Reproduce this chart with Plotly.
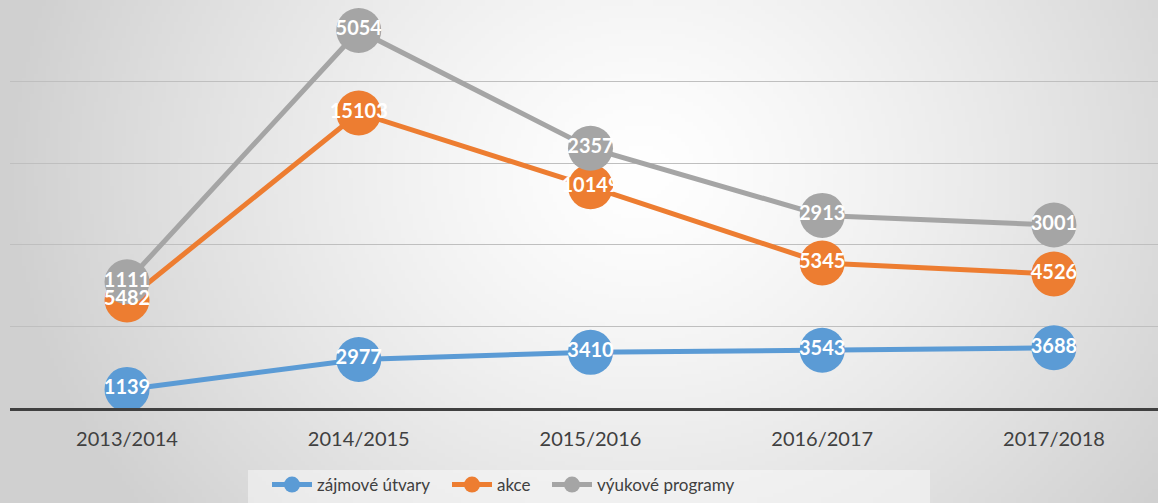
import base64, struct, zlib
import numpy as np
import plotly.graph_objects as go

# ---- data ----
years = ["2013/2014", "2014/2015", "2015/2016", "2016/2017", "2017/2018"]
zajmove_utvary = [1139, 2977, 3410, 3543, 3688]
akce = [5482, 15103, 10149, 5345, 4526]
vyukove_programy = [1111, 5054, 2357, 2913, 3001]
series_names = ["zájmové útvary", "akce", "výukové programy"]
colors = ["#5B9BD5", "#ED7D31", "#A5A5A5"]

W, H = 1158, 503
ML, MR, MT, MB = 10, 0, 0, 95
PW, PH = W - ML - MR, H - MT - MB

# ---- radial gradient background as PNG ----
def gradient_png(w, h):
    ys, xs = np.mgrid[0:h, 0:w].astype(float)
    xs = xs * (W / w)
    ys = ys * (H / h)
    cx, cy, rx, ry = 640.0, 170.0, 640.0, 560.0
    d = np.sqrt(((xs - cx) / rx) ** 2 + ((ys - cy) / ry) ** 2)
    val = 255 - (255 - 208) * np.clip(d, 0, 1) ** 1.3
    pix = np.clip(val, 0, 255).astype(np.uint8)
    raw = b"".join(b"\x00" + pix[r].tobytes() for r in range(h))
    def chunk(t, data):
        c = struct.pack(">I", len(data)) + t + data
        return c + struct.pack(">I", zlib.crc32(t + data) & 0xFFFFFFFF)
    png = b"\x89PNG\r\n\x1a\n" + chunk(b"IHDR", struct.pack(">IIBBBBB", w, h, 8, 0, 0, 0, 0))
    png += chunk(b"IDAT", zlib.compress(raw, 9)) + chunk(b"IEND", b"")
    return "data:image/png;base64," + base64.b64encode(png).decode()

bg = gradient_png(290, 126)

xidx = list(range(len(years)))
vals = [zajmove_utvary, akce, vyukove_programy]
stacked = np.cumsum(np.array(vals, dtype=float), axis=0)
legend_ids = ["legend", "legend2", "legend3"]

fig = go.Figure()
for i in range(3):
    fig.add_trace(go.Scatter(
        x=xidx, y=stacked[i], mode="lines+markers", name=series_names[i],
        line=dict(color=colors[i], width=5),
        marker=dict(color=colors[i], size=45),
        hoverinfo="skip", legend=legend_ids[i],
    ))
for i in range(3):
    fig.add_trace(go.Scatter(
        x=xidx, y=stacked[i], mode="text", text=[str(v) for v in vals[i]],
        textposition="middle center",
        textfont=dict(family="Lato", size=20, color="white", weight="bold"),
        showlegend=False, hoverinfo="skip",
    ))

def px_x(p):
    return (p - ML) / PW

def px_y(p):
    return (PH + MT - p) / PH

def legend_at(xpx):
    return dict(orientation="h", xanchor="left", x=px_x(xpx),
                yanchor="bottom", y=px_y(503),
                bgcolor="rgba(0,0,0,0)", font=dict(size=17, color="#404040"),
                itemwidth=40)

fig.update_layout(
    width=W, height=H,
    margin=dict(l=ML, r=MR, t=MT, b=MB),
    paper_bgcolor="#e6e6e6",
    plot_bgcolor="rgba(0,0,0,0)",
    font=dict(family="Lato", color="#404040"),
    images=[dict(source=bg, xref="paper", yref="paper",
                 x=-ML / PW, y=1 + MT / PH, sizex=W / PW, sizey=H / PH,
                 xanchor="left", yanchor="top", sizing="stretch", layer="below")],
    shapes=[dict(type="rect", xref="paper", yref="paper", layer="below",
                 x0=px_x(248), x1=px_x(930), y0=px_y(503), y1=px_y(470),
                 fillcolor="rgba(248,248,248,0.55)", line=dict(width=0))],
    xaxis=dict(range=[-0.505, 4.449], tickmode="array", tickvals=xidx, ticktext=years,
               showgrid=False, zeroline=False, showline=True, linecolor="#404040",
               linewidth=3, ticks="", tickfont=dict(size=20, color="#404040"),
               ticklabelstandoff=11, fixedrange=True),
    yaxis=dict(range=[0, 25000], dtick=5000, showgrid=True, gridcolor="#bfbfbf",
               gridwidth=1, zeroline=False, showticklabels=False, fixedrange=True),
    legend=legend_at(267),
    legend2=legend_at(447),
    legend3=legend_at(547),
    showlegend=True,
)

fig.write_html("out.html", config={"displayModeBar": False},
               post_script="document.body.style.margin='0';document.body.style.padding='0';")
